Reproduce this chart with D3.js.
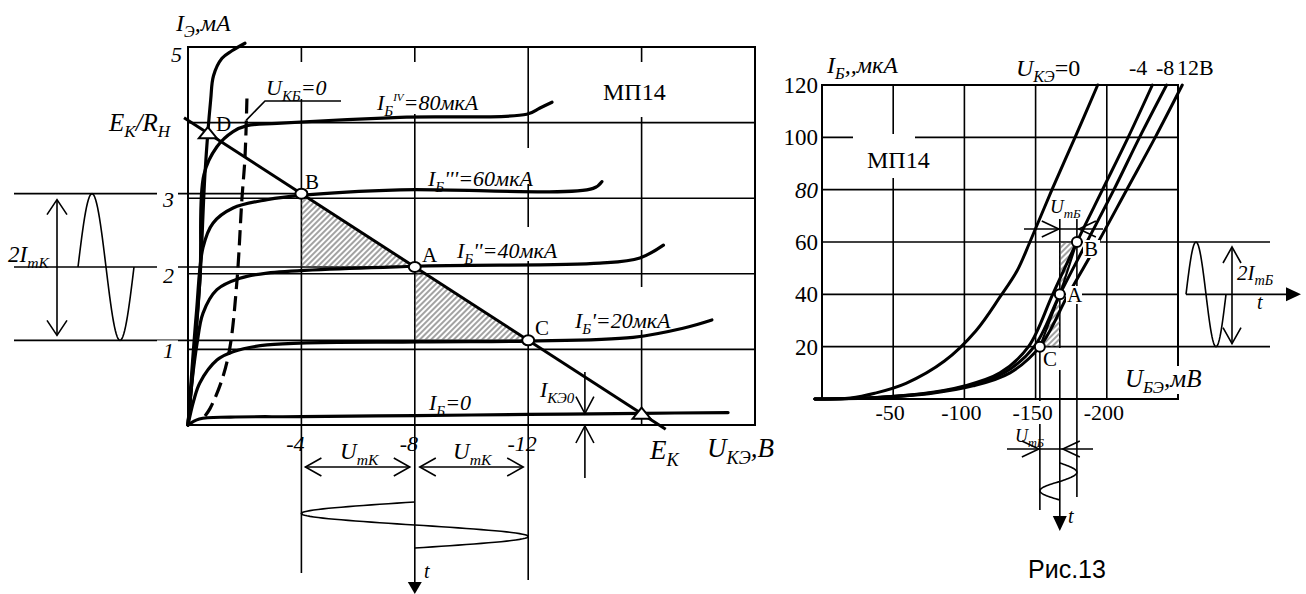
<!DOCTYPE html>
<html>
<head>
<meta charset="utf-8">
<script src="https://cdn.jsdelivr.net/npm/d3@7"></script>
<style>
    body { margin: 0; background: #fff; }
</style>
</head>
<body>
<div id="chart"></div>
<script>
// output characteristics I_Э(U_КЭ): [U, V ; I, mA]
const ib0 = [[0, 0], [-0.4, 0.08], [-1.5, 0.105], [-4, 0.11], [-8, 0.125], [-12, 0.14], [-16, 0.155], [-19.05, 0.165]];
const ib20 = [[0, 0], [-0.2, 0.32], [-0.42, 0.56], [-1.02, 0.86], [-1.59, 0.97], [-2.79, 1.06], [-8.18, 1.1], [-12, 1.11], [-15.7, 1.16], [-17.46, 1.28], [-18.48, 1.39]];
const ib40 = [[0, 0], [-0.15, 0.6], [-0.32, 1.08], [-0.53, 1.48], [-1.02, 1.79], [-1.83, 1.94], [-2.79, 2.01], [-7.97, 2.1], [-14.53, 2.14], [-15.94, 2.21], [-16.77, 2.38]];
const ib60 = [[0, 0], [-0.3, 1.5], [-0.53, 2.35], [-0.88, 2.67], [-1.59, 2.87], [-2.79, 2.98], [-4.06, 3.04], [-7.48, 3.11], [-14.29, 3.13], [-14.6, 3.22]];
const ib80 = [[0, 0], [-0.42, 1.92], [-0.56, 3.31], [-1.02, 3.68], [-1.59, 3.88], [-2.08, 3.96], [-3.14, 3.99], [-7.48, 4.07], [-11.95, 4.11], [-12.4, 4.19], [-12.84, 4.27]];
const ibSteep = [[0, 0], [-0.2, 0.9], [-0.42, 1.92], [-0.6, 3.33], [-0.8, 4.3], [-0.9, 4.62], [-1.2, 4.85], [-1.55, 4.95], [-2.01, 5.05]];
const ukb0 = [[-0.6, 0.12], [-0.78, 0.22], [-1.2, 0.6], [-1.48, 1.03], [-1.73, 1.92], [-1.9, 2.98], [-2.01, 3.54], [-2.08, 4.34]];

const leftGridU = [-4, -8, -12, -16];
const leftGridI = [1, 2, 3, 4];
const leftYTicks = [5, 3, 2, 1];
const leftXTicks = [-4, -8, -12];

// load line
const EK = -16;         // V
const EK_RH = 4.03;     // mA at U = 0
const I_AT_EK = 0.15;   // mA
const loadEnds = [0.14, -16.85];
const opU = { D: -0.7, B: -4, A: -8, C: -12 };
const ikeoU = -14;

// input characteristics I_Б(U_БЭ): [U, mV ; I, µA]
const uce0 = [[5, 0], [-20, 0.4], [-37, 2.2], [-59, 6], [-86, 14.5], [-108, 26], [-125, 39], [-137, 49], [-146, 60], [-161.5, 80], [-177.7, 100], [-193.6, 120]];
const uce4 = [[5, 0], [-35, 0.5], [-70, 2], [-100, 5], [-125, 10], [-145, 20], [-162, 40], [-179, 60], [-197, 80], [-215, 100], [-232, 120]];
const uce8 = [[5, 0], [-36, 0.5], [-72, 2], [-103, 5], [-128, 10], [-149, 20], [-167, 40], [-186, 60], [-205, 80], [-223, 100], [-242, 120]];
const uce12 = [[5, 0], [-38, 0.5], [-75, 2], [-106, 5], [-132, 10], [-153, 20], [-173, 40], [-194, 60], [-214, 80], [-234, 100], [-253, 120]];

const rightGridU = [-50, -100, -150, -200];
const rightGridI = [20, 40, 60, 80, 100];
const rightYTicks = [120, 100, 80, 60, 40, 20];
const rightXTicks = [-50, -100, -150, -200];
const inOp = { B: [-179, 60], A: [-167, 40], C: [-153, 20] };


let width = 1306,
    height = 594;

const SERIF = "'Liberation Serif', 'Times New Roman', Times, 'DejaVu Serif', serif";
const SANS = "'Liberation Sans', Arial, 'DejaVu Sans', sans-serif";

let xL = d3.scaleLinear().domain([0, -20]).range([188, 755]);
let yL = d3.scaleLinear().domain([0, 5]).range([425, 47]);
let xR = d3.scaleLinear().domain([0, -250]).range([822, 1178]);
let yR = d3.scaleLinear().domain([0, 120]).range([399, 85]);

let lineL = d3.line().x(d => xL(d[0])).y(d => yL(d[1])).curve(d3.curveCatmullRom.alpha(0.5));
let lineR = d3.line().x(d => xR(d[0])).y(d => yR(d[1])).curve(d3.curveCatmullRom.alpha(0.5));
let plain = d3.line();

function loadI(u) {
    return EK_RH - (EK_RH - I_AT_EK) * u / EK;
}

let svg = d3.select("#chart").append("svg")
    .attr("width", width)
    .attr("height", height)
    .style("font-family", SERIF);

let defs = svg.append("defs");
defs.append("pattern")
    .attr("id", "hatch")
    .attr("patternUnits", "userSpaceOnUse")
    .attr("width", 4).attr("height", 4)
    .attr("patternTransform", "rotate(45)")
    .append("line")
    .attr("x1", 1).attr("y1", 0).attr("x2", 1).attr("y2", 4)
    .attr("stroke", "#555").attr("stroke-width", 1.1);

let gGrid = svg.append("g").attr("fill", "none").attr("stroke", "#000");
let gMask = svg.append("g").attr("fill", "#fff");
let gMarks = svg.append("g").attr("fill", "none").attr("stroke", "#000");
let gMaskTop = svg.append("g").attr("fill", "#fff");
let gText = svg.append("g");
let gPts = svg.append("g");

function seg(g, x1, y1, x2, y2, w) {
    return g.append("line")
        .attr("x1", x1).attr("y1", y1).attr("x2", x2).attr("y2", y2)
        .attr("stroke", "#000").attr("stroke-width", w || 1.6);
}

// open "V" arrow head with the tip at (x, y)
function vHead(g, x, y, dir, len, half) {
    len = len || 15; half = half || 9;
    let pts;
    if (dir === "up") pts = [[x - half, y + len], [x, y], [x + half, y + len]];
    if (dir === "down") pts = [[x - half, y - len], [x, y], [x + half, y - len]];
    if (dir === "left") pts = [[x + len, y - half], [x, y], [x + len, y + half]];
    if (dir === "right") pts = [[x - len, y - half], [x, y], [x - len, y + half]];
    g.append("path").attr("d", plain(pts)).attr("fill", "none").attr("stroke", "#000").attr("stroke-width", 1.6);
}

function fillHead(g, x, y, dir, len, half) {
    let pts;
    if (dir === "down") pts = [[x - half, y - len], [x, y], [x + half, y - len]];
    if (dir === "right") pts = [[x - len, y - half], [x, y], [x - len, y + half]];
    g.append("path").attr("d", plain(pts) + "Z").attr("fill", "#000").attr("stroke", "none");
}

function rich(g, x, y, parts, size, opts) {
    opts = opts || {};
    let t = g.append("text")
        .attr("x", x).attr("y", y)
        .style("font-size", size + "px")
        .style("font-family", opts.family || SERIF)
        .attr("fill", "#000")
        .attr("text-anchor", opts.anchor || "start");
    let shift = 0;
    parts.forEach(function (p) {
        let str = p[0], kind = p[1] || "n";
        let target = 0, fs = size;
        if (kind.length === 2 && kind[0] === "s") { target = size * 0.25; fs = size * 0.68; }
        if (kind.length === 2 && kind[0] === "p") { target = -size * 0.42; fs = size * 0.5; }
        t.append("tspan")
            .attr("dy", target - shift)
            .style("font-size", fs + "px")
            .style("font-style", kind[kind.length - 1] === "i" ? "italic" : "normal")
            .text(str);
        shift = target;
    });
    return t;
}

function mask(g, x, y, w, h) {
    g.append("rect").attr("x", x).attr("y", y).attr("width", w).attr("height", h);
}

function sine(n, fn) {
    return d3.range(n + 1).map(k => fn(k / n));
}

// ================= LEFT: output characteristics =================
function drawLeft() {
    // frame + grid
    gGrid.append("rect")
        .attr("x", xL(0)).attr("y", yL(5))
        .attr("width", xL(-20) - xL(0)).attr("height", yL(0) - yL(5))
        .attr("stroke-width", 2);
    leftGridU.forEach(u => seg(gGrid, xL(u), yL(5), xL(u), yL(0), 1.6));
    leftGridI.forEach(i => seg(gGrid, xL(0), yL(i), xL(-20), yL(i), 1.6));

    let pB = [xL(opU.B), yL(loadI(opU.B))];
    let pA = [xL(opU.A), yL(loadI(opU.A))];
    let pC = [xL(opU.C), yL(loadI(opU.C))];

    // projections to the left (current swing)
    [pB, pA, pC].forEach(p => seg(gGrid, 14, p[1], p[0], p[1], 1.6));
    // projections downward (voltage swing)
    seg(gGrid, pB[0], yL(0), pB[0], 573, 1.6);
    seg(gGrid, pA[0], yL(0), pA[0], 584, 1.6);
    seg(gGrid, pC[0], yL(0), pC[0], 580, 1.6);

    // white label fields cut the grid
    mask(gMask, 262, 62, 83, 37);
    mask(gMask, 372, 62, 123, 52);
    mask(gMask, 590, 62, 100, 55);
    mask(gMask, 425, 148, 120, 36);
    mask(gMask, 455, 227, 113, 34);
    mask(gMask, 572, 287, 88, 43);
    [3, 2, 1].forEach(v => mask(gMask, 157, yL(v) - 9, 21, 21));

    // hatched triangles
    gMarks.append("path")
        .attr("d", plain([pB, [pB[0], pA[1]], pA]) + "Z")
        .attr("fill", "url(#hatch)").attr("stroke", "none");
    gMarks.append("path")
        .attr("d", plain([pA, [pA[0], pC[1]], pC]) + "Z")
        .attr("fill", "url(#hatch)").attr("stroke", "none");

    // characteristics
    [ib0, ib20, ib40, ib60, ib80, ibSteep].forEach(c => {
        gMarks.append("path").attr("d", lineL(c))
            .attr("stroke-width", 3.2).attr("stroke-linecap", "round");
    });
    gMarks.append("path").attr("d", lineL(ukb0))
        .attr("stroke-width", 3.2).attr("stroke-dasharray", "15,7");
    // leader to U_КБ=0
    gMarks.append("path")
        .attr("d", plain([[xL(-2.05), yL(4.03)], [265, 101], [341, 101]]))
        .attr("stroke-width", 1.6);

    // load line
    gMarks.append("path")
        .attr("d", plain(loadEnds.map(u => [xL(u), yL(loadI(u))])))
        .attr("stroke-width", 3);

    // current swing on the left
    let iA = loadI(opU.A), iB = loadI(opU.B);
    gMarks.append("path")
        .attr("d", d3.line()(sine(60, t => [78 + 56 * t, yL(iA + (iB - iA) * Math.sin(2 * Math.PI * t))])))
        .attr("stroke-width", 1.6);
    seg(gMarks, 57, pB[1] + 6, 57, pC[1] - 5, 1.6);
    vHead(gMarks, 57, pB[1] + 6, "up", 15, 10);
    vHead(gMarks, 57, pC[1] - 5, "down", 15, 10);

    // voltage swing below
    gMarks.append("path")
        .attr("d", d3.line()(sine(80, t => [xL(opU.A + (opU.B - opU.A) * Math.sin(2 * Math.PI * t)), 502 + 46 * t])))
        .attr("stroke-width", 1.6);
    fillHead(gMarks, pA[0], 594, "down", 12, 7);
    let yU = 467;
    seg(gMarks, pB[0] + 4, yU, pA[0] - 5, yU, 1.6);
    vHead(gMarks, pB[0] + 4, yU, "left", 16, 9);
    vHead(gMarks, pA[0] - 5, yU, "right", 16, 9);
    seg(gMarks, pA[0] + 5, yU, pC[0] - 5, yU, 1.6);
    vHead(gMarks, pA[0] + 5, yU, "left", 16, 9);
    vHead(gMarks, pC[0] - 5, yU, "right", 16, 9);

    // I_КЭ0 arrows
    let xk = xL(ikeoU), yk = yL(0.15);
    seg(gMarks, xk, 372, xk, yk, 1.6);
    vHead(gMarks, xk, yk, "down", 17, 9);
    seg(gMarks, xk, 478, xk, yL(0) + 1, 1.6);
    vHead(gMarks, xk, yL(0) + 1, "up", 17, 9);

    // texts
    rich(gText, 176, 31, [["I", "i"], ["Э", "si"], [",мА", "i"]], 24);
    rich(gText, 182, yL(5) + 15, [["5", "i"]], 22, { anchor: "end" });
    [3, 2, 1].forEach(v => rich(gText, 174, yL(v) + 9, [[String(v), "i"]], 22, { anchor: "end" }));
    rich(gText, 109, 131, [["E", "i"], ["K", "si"], ["/R", "i"], ["H", "si"]], 25);
    rich(gText, 266, 95, [["U", "i"], ["КБ", "si"], ["=0", "i"]], 22);
    rich(gText, 377, 110, [["I", "i"], ["Б", "si"], ["IV", "pi"], ["=80мкА", "i"]], 22);
    rich(gText, 428, 186, [["I", "i"], ["Б", "si"], ["'''=60мкА", "i"]], 22);
    rich(gText, 457, 258, [["I", "i"], ["Б", "si"], ["''=40мкА", "i"]], 22);
    rich(gText, 575, 328, [["I", "i"], ["Б", "si"], ["'=20мкА", "i"]], 22);
    rich(gText, 429, 410, [["I", "i"], ["Б", "si"], ["=0", "i"]], 22);
    rich(gText, 540, 397, [["I", "i"], ["КЭ0", "si"]], 22);
    rich(gText, 603, 100, [["МП14", "n"]], 24);
    rich(gText, 216, 131, [["D", "n"]], 21);
    rich(gText, 305, 189, [["B", "n"]], 21);
    rich(gText, 422, 262, [["A", "n"]], 21);
    rich(gText, 535, 335, [["C", "n"]], 21);
    leftXTicks.forEach(u => rich(gText, xL(u) - 6, 451, [[String(u), "i"]], 22, { anchor: "middle" }));
    rich(gText, 340, 459, [["U", "i"], ["mK", "si"]], 23);
    rich(gText, 453, 459, [["U", "i"], ["mK", "si"]], 23);
    rich(gText, 650, 459, [["E", "i"], ["K", "si"]], 27);
    rich(gText, 707, 457, [["U", "i"], ["KЭ", "si"], [",B", "i"]], 27);
    rich(gText, 424, 578, [["t", "i"]], 20);
    rich(gText, 8, 262, [["2I", "i"], ["mK", "si"]], 23);

    // operating points
    [pB, pA, pC].forEach(p => {
        gPts.append("ellipse").attr("cx", p[0]).attr("cy", p[1]).attr("rx", 6).attr("ry", 5)
            .attr("fill", "#fff").attr("stroke", "#000").attr("stroke-width", 2);
    });
    [[xL(opU.D), yL(loadI(opU.D))], [xL(EK), yL(loadI(EK))]].forEach(p => {
        gPts.append("path")
            .attr("d", plain([[p[0], p[1] - 6], [p[0] + 9, p[1] + 5], [p[0] - 9, p[1] + 5]]) + "Z")
            .attr("fill", "#fff").attr("stroke", "#000").attr("stroke-width", 2);
    });
}

// ================= RIGHT: input characteristics =================
function drawRight() {
    gGrid.append("rect")
        .attr("x", xR(0)).attr("y", yR(120))
        .attr("width", xR(-250) - xR(0)).attr("height", yR(0) - yR(120))
        .attr("stroke-width", 2);
    rightGridU.forEach(u => seg(gGrid, xR(u), yR(120), xR(u), yR(0), 1.6));
    rightGridI.forEach(i => seg(gGrid, xR(0), yR(i), xR(-250), yR(i), 1.6));

    let pB = [xR(inOp.B[0]), yR(inOp.B[1])];
    let pA = [xR(inOp.A[0]), yR(inOp.A[1])];
    let pC = [xR(inOp.C[0]), yR(inOp.C[1])];

    // extension lines and projections
    seg(gGrid, xR(-250), pB[1], 1270, pB[1], 1.6);
    seg(gGrid, xR(-250), pC[1], 1270, pC[1], 1.6);
    seg(gGrid, pA[0], 219, pA[0], 518, 1.6);
    seg(gGrid, pB[0], 219, pB[0], 497, 1.6);
    seg(gGrid, pC[0], pC[1], pC[0], 510, 1.6);

    mask(gMask, 853, 134, 62, 44);
    mask(gMask, 1120, 366, 95, 28);
    mask(gMask, 1005, 401, 48, 23);
    mask(gMask, 1043, 348, 21, 22);

    gMarks.append("path")
        .attr("d", plain([pA, [pA[0], pB[1]], pB]) + "Z")
        .attr("fill", "url(#hatch)").attr("stroke", "none");
    gMarks.append("path")
        .attr("d", plain([pC, [pA[0], pC[1]], pA]) + "Z")
        .attr("fill", "url(#hatch)").attr("stroke", "none");

    [uce0, uce4, uce8, uce12].forEach(c => {
        gMarks.append("path").attr("d", lineR(c))
            .attr("stroke-width", 3).attr("stroke-linecap", "round");
    });
    // segments joining the operating points
    gMarks.append("path").attr("d", plain([pC, pA, pB])).attr("stroke-width", 2.2);

    // labels A and B sit on white fields above the curves
    mask(gMaskTop, 1066, 286, 16, 18);
    mask(gMaskTop, 1083, 240, 17, 18);

    // base current swing (right)
    gMarks.append("path")
        .attr("d", d3.line()(sine(60, t => [1186 + 40 * t, yR(40 + 20 * Math.sin(2 * Math.PI * t))])))
        .attr("stroke-width", 1.6);
    seg(gMarks, 1186, yR(40), 1288, yR(40), 1.6);
    fillHead(gMarks, 1301, yR(40), "right", 15, 7);
    seg(gMarks, 1232, pB[1] + 5, 1232, pC[1] - 3, 1.6);
    vHead(gMarks, 1232, pB[1] + 5, "up", 16, 9);
    vHead(gMarks, 1232, pC[1] - 3, "down", 16, 9);

    // base voltage swing (below)
    gMarks.append("path")
        .attr("d", d3.line()(sine(60, t => {
            let s = Math.sin(2 * Math.PI * t);
            let u = inOp.A[0] + (s > 0 ? inOp.B[0] - inOp.A[0] : inOp.A[0] - inOp.C[0]) * s;
            return [xR(u), 463 + 37 * t];
        })))
        .attr("stroke-width", 1.6);
    fillHead(gMarks, pA[0], 531, "down", 15, 7);

    // U_mБ arrows
    seg(gMarks, 1024, 229, 1103, 229, 1.6);
    vHead(gMarks, pA[0] - 1, 229, "right", 17, 8);
    vHead(gMarks, pB[0] + 2, 229, "left", 17, 8);
    seg(gMarks, 1007, 449, 1093, 449, 1.6);
    vHead(gMarks, pC[0] - 1, 449, "right", 17, 8);
    vHead(gMarks, pA[0] + 3, 449, "left", 17, 8);

    // texts
    rich(gText, 827, 73, [["I", "i"], ["Б", "si"], [",,мкА", "i"]], 24);
    rich(gText, 1016, 76, [["U", "i"], ["КЭ", "si"], ["=0", "n"]], 24);
    rich(gText, 1129, 75, [["-4", "n"]], 22);
    rich(gText, 1156, 75, [["-8", "n"]], 22);
    rich(gText, 1177, 75, [["12В", "n"]], 22);
    rich(gText, 867, 168, [["МП14", "n"]], 24);
    rightYTicks.forEach(v => rich(gText, 818, yR(v) + 8, [[String(v), v === 80 ? "i" : "n"]], 23, { anchor: "end" }));
    rightXTicks.forEach(u => rich(gText, xR(u) - 3, 420, [[String(u), "n"]], 22, { anchor: "middle" }));
    rich(gText, 1050, 213, [["U", "i"], ["mБ", "si"]], 19);
    rich(gText, 1015, 442, [["U", "i"], ["mБ", "si"]], 18);
    rich(gText, 1125, 387, [["U", "i"], ["БЭ", "si"], [",мВ", "i"]], 25);
    rich(gText, 1237, 280, [["2I", "i"], ["mБ", "si"]], 21);
    rich(gText, 1257, 309, [["t", "i"]], 20);
    rich(gText, 1068, 523, [["t", "i"]], 20);
    rich(gText, 1084, 256, [["B", "n"]], 21);
    rich(gText, 1067, 302, [["A", "n"]], 21);
    rich(gText, 1043, 366, [["C", "n"]], 21);
    rich(gText, 1028, 578, [["Рис.13", "n"]], 25, { family: SANS });

    [pB, pA, pC].forEach(p => {
        gPts.append("ellipse").attr("cx", p[0]).attr("cy", p[1]).attr("rx", 5).attr("ry", 5)
            .attr("fill", "#fff").attr("stroke", "#000").attr("stroke-width", 2);
    });
}

drawLeft();
drawRight();
</script>
</body>
</html>
